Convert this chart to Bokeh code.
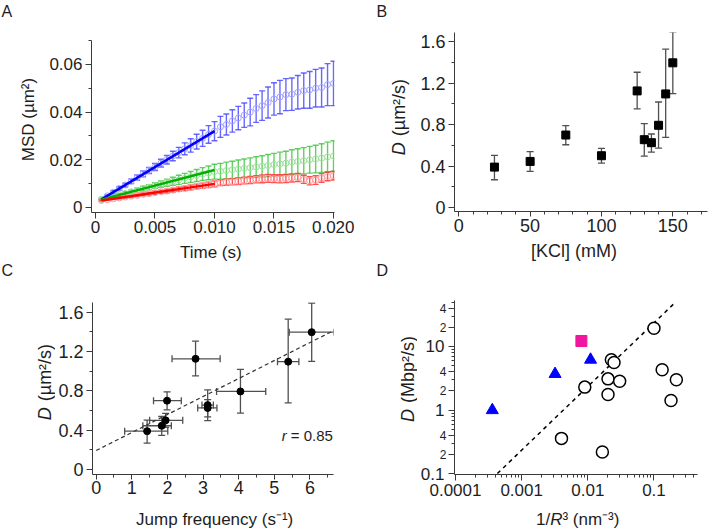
import math
from bokeh.plotting import figure
from bokeh.models import ColumnDataSource, Whisker, TeeHead, Label, FixedTicker, Range1d, LogAxis
from bokeh.layouts import row, column
from bokeh.embed import file_html
from bokeh.resources import INLINE

FONT = "Liberation Sans"
TXT = "#1e1e1e"

# ---------------- Panel A data ----------------
time_s = [0.0005, 0.0010, 0.0015, 0.0020, 0.0025, 0.0030, 0.0035, 0.0040, 0.0045, 0.0050,
          0.0055, 0.0060, 0.0065, 0.0070, 0.0075, 0.0080, 0.0085, 0.0090, 0.0095, 0.0100,
          0.0105, 0.0110, 0.0115, 0.0120, 0.0125, 0.0130, 0.0135, 0.0140, 0.0145, 0.0150,
          0.0155, 0.0160, 0.0165, 0.0170, 0.0175, 0.0180, 0.0185, 0.0190, 0.0195, 0.0200]
msd_blue = [0.0034, 0.0049, 0.0064, 0.0080, 0.0094, 0.0110, 0.0125, 0.0141, 0.0155, 0.0170,
            0.0186, 0.0200, 0.0216, 0.0230, 0.0246, 0.0260, 0.0276, 0.0290, 0.0306, 0.0320,
            0.0338, 0.0348, 0.0363, 0.0375, 0.0387, 0.0400, 0.0415, 0.0427, 0.0440, 0.0455,
            0.0463, 0.0473, 0.0475, 0.0483, 0.0490, 0.0493, 0.0500, 0.0503, 0.0515, 0.0520]
err_blue = [0.0003, 0.0004, 0.0006, 0.0007, 0.0008, 0.0010, 0.0011, 0.0012, 0.0013, 0.0015,
            0.0016, 0.0018, 0.0020, 0.0022, 0.0025, 0.0028, 0.0031, 0.0034, 0.0037, 0.0040,
            0.0044, 0.0044, 0.0047, 0.0049, 0.0051, 0.0058, 0.0058, 0.0062, 0.0065, 0.0068,
            0.0070, 0.0067, 0.0068, 0.0070, 0.0074, 0.0077, 0.0079, 0.0082, 0.0088, 0.0093]
msd_green = [0.0033, 0.0040, 0.0046, 0.0053, 0.0059, 0.0066, 0.0072, 0.0079, 0.0085, 0.0092,
             0.0098, 0.0104, 0.0110, 0.0116, 0.0122, 0.0128, 0.0134, 0.0140, 0.0145, 0.0150,
             0.0152, 0.0155, 0.0158, 0.0161, 0.0164, 0.0167, 0.0170, 0.0173, 0.0176, 0.0180,
             0.0183, 0.0186, 0.0190, 0.0193, 0.0196, 0.0200, 0.0203, 0.0207, 0.0212, 0.0216]
err_green = [0.0003, 0.0004, 0.0005, 0.0006, 0.0007, 0.0008, 0.0009, 0.0010, 0.0011, 0.0012,
             0.0013, 0.0015, 0.0017, 0.0019, 0.0021, 0.0023, 0.0025, 0.0027, 0.0029, 0.0031,
             0.0033, 0.0035, 0.0036, 0.0038, 0.0039, 0.0041, 0.0043, 0.0044, 0.0046, 0.0047,
             0.0049, 0.0050, 0.0052, 0.0053, 0.0055, 0.0056, 0.0058, 0.0060, 0.0062, 0.0064]
msd_red = [0.0029, 0.0033, 0.0036, 0.0040, 0.0044, 0.0047, 0.0051, 0.0055, 0.0058, 0.0062,
           0.0066, 0.0069, 0.0073, 0.0077, 0.0080, 0.0084, 0.0088, 0.0091, 0.0095, 0.0099,
           0.0104, 0.0106, 0.0108, 0.0110, 0.0113, 0.0115, 0.0118, 0.0120, 0.0122, 0.0121,
           0.0120, 0.0122, 0.0124, 0.0126, 0.0118, 0.0112, 0.0115, 0.0124, 0.0130, 0.0133]
err_red = [0.0002, 0.0003, 0.0003, 0.0004, 0.0004, 0.0005, 0.0005, 0.0006, 0.0006, 0.0007,
           0.0007, 0.0008, 0.0008, 0.0009, 0.0009, 0.0010, 0.0010, 0.0011, 0.0011, 0.0012,
           0.0012, 0.0013, 0.0013, 0.0014, 0.0014, 0.0015, 0.0015, 0.0016, 0.0016, 0.0016,
           0.0017, 0.0017, 0.0017, 0.0017, 0.0017, 0.0017, 0.0018, 0.0018, 0.0018, 0.0018]
fit_t = [0.0005, 0.0100]
fit_blue = [0.0034, 0.0320]
fit_green = [0.0033, 0.0157]
fit_red = [0.0029, 0.0099]

# ---------------- Panel B / C data ----------------
kcl_mM = [25, 50, 75, 100, 125, 130, 135, 140, 145, 150]
D_um2s = [0.390, 0.445, 0.700, 0.500, 1.126, 0.655, 0.626, 0.794, 1.097, 1.397]
D_lo = [0.268, 0.348, 0.606, 0.429, 0.952, 0.497, 0.535, 0.574, 0.677, 1.100]
D_hi = [0.503, 0.539, 0.790, 0.571, 1.306, 0.810, 0.710, 1.019, 1.529, 1.694]
jump_freq = [1.43, 1.84, 1.99, 1.95, 2.79, 3.13, 3.13, 4.05, 5.39, 6.05]
jump_lo = [0.80, 1.31, 1.61, 1.50, 2.13, 2.97, 2.85, 3.38, 5.09, 5.42]
jump_hi = [2.01, 2.11, 2.39, 2.43, 3.48, 3.29, 3.39, 4.76, 5.69, 6.67]
fitC_x = [0.0, 6.67]
fitC_y = [0.193, 1.414]

# ---------------- Panel D data ----------------
tri_x = [3.6e-4, 3.2e-3, 0.011]
tri_y = [1.0, 3.7, 6.2]
sq_x = [0.008]
sq_y = [12.2]
circ_x = [0.100, 0.0227, 0.0249, 0.133, 0.0202, 0.0303, 0.218, 0.0090, 0.0202, 0.181, 0.0040, 0.0166]
circ_y = [19.3, 6.2, 5.6, 4.3, 3.1, 2.85, 3.0, 2.3, 1.76, 1.42, 0.36, 0.22]
fitD_x = [4.3e-4, 0.215]
fitD_y = [0.101, 50.5]

# ---------------- layout helpers ----------------
W = {'D': .722, ' ': .278, '(': .333, ')': .333, 'µ': .576, 'm': .833, '²': .333, '³': .333,
     '/': .278, 's': .5, 'M': .833, 'b': .556, 'p': .556, '1': .556, 'R': .722, 'n': .556,
     '⁻': .333, '¹': .333, 'r': .333, '=': .584, '.': .278, 'J': .5, 'u': .556, 'f': .278,
     'e': .556, 'q': .556, 'c': .5, 'y': .5}
MID = 0.32  # em distance from alphabetic baseline up to the "middle" anchor

PANELS = {}


def tw(s, size):
    return sum(W.get(c, .556) for c in s) * size


def register(p, frame, xr, yr, xlog=False, ylog=False):
    PANELS[id(p)] = dict(frame=frame, xr=xr, yr=yr, xlog=xlog, ylog=ylog)


def style_axis(ax):
    ax.axis_line_color = "#3a3a3a"
    ax.major_tick_line_color = "#3a3a3a"
    ax.minor_tick_line_color = "#3a3a3a"
    ax.major_tick_in = 0
    ax.minor_tick_in = 0
    ax.major_tick_out = 6
    ax.minor_tick_out = 3
    ax.major_label_text_font = FONT
    ax.major_label_text_color = TXT


def make_fig(x0, y0, w, h, frame, xr, yr, xlog=False, ylog=False):
    L, R, T, B = frame
    p = figure(width=w, height=h, x_range=Range1d(*xr), y_range=Range1d(*yr),
               x_axis_type="log" if xlog else "linear",
               y_axis_type="log" if ylog else "linear",
               output_backend="svg", toolbar_location=None, title=None, frame_align=False,
               min_border_left=L - x0, min_border_right=x0 + w - R,
               min_border_top=T - y0, min_border_bottom=y0 + h - B)
    p.outline_line_color = None
    p.grid.visible = False
    p.background_fill_color = "white"
    p.border_fill_color = "white"
    register(p, frame, xr, yr, xlog, ylog)
    for ax in p.axis:
        style_axis(ax)
    return p


def strip(x0, y0, w, h):
    """A text-only canvas whose data coordinates equal page pixels."""
    p = figure(width=w, height=h, x_range=Range1d(x0, x0 + w), y_range=Range1d(y0 + h, y0),
               x_axis_location=None, y_axis_location=None, toolbar_location=None, title=None,
               frame_align=False, output_backend="svg", min_border=0)
    p.outline_line_color = None
    p.grid.visible = False
    p.background_fill_color = "white"
    p.border_fill_color = "white"
    register(p, (x0, x0 + w, y0, y0 + h), (x0, x0 + w), (y0 + h, y0))
    return p


def to_data(p, X, Y):
    pan = PANELS[id(p)]
    L, R, T, B = pan['frame']
    (x0, x1), (y0, y1) = pan['xr'], pan['yr']
    fx = (X - L) / (R - L)
    fy = (B - Y) / (B - T)
    if pan['xlog']:
        x = 10 ** (math.log10(x0) + fx * (math.log10(x1) - math.log10(x0)))
    else:
        x = x0 + fx * (x1 - x0)
    if pan['ylog']:
        y = 10 ** (math.log10(y0) + fy * (math.log10(y1) - math.log10(y0)))
    else:
        y = y0 + fy * (y1 - y0)
    return x, y


def text(p, X, Y, s, size, italic=False, align="left", angle=0.0):
    """Y is the text's middle line (page pixels)."""
    x, y = to_data(p, X, Y)
    p.add_layout(Label(x=x, y=y, text=s, text_font=FONT, text_font_size=f"{size}px",
                       text_font_style="italic" if italic else "normal", text_color=TXT,
                       text_align=align, text_baseline="middle", angle=angle))


def seg_text(p, Xc, Ymid, segs, size, vertical=False):
    """Centered run of text pieces (some italic), laid out horizontally or bottom-to-top."""
    total = sum(tw(s, size) for s, _ in segs)
    pos = -total / 2
    for s, it in segs:
        lead = len(s) - len(s.lstrip(" "))
        pos += lead * 0.33 * size
        s = s.lstrip(" ")
        if vertical:
            text(p, Xc, Ymid - pos, s, size, italic=it, angle=math.pi / 2)
        else:
            text(p, Xc + pos, Ymid, s, size, italic=it)
        pos += tw(s, size)


def ticks(ax, major, minor, labels, size):
    ax.ticker = FixedTicker(ticks=major, minor_ticks=minor)
    ax.major_label_overrides = {m: l for m, l in zip(major, labels)}
    ax.major_label_text_font_size = f"{size}px"


def vbars(p, x, lo, hi, color, width=1.2, cap=6, alpha=1.0):
    src = ColumnDataSource(dict(base=x, lower=lo, upper=hi))
    p.add_layout(Whisker(source=src, base="base", lower="lower", upper="upper", dimension="height",
                         line_color=color, line_width=width, line_alpha=alpha,
                         upper_head=TeeHead(size=cap, line_color=color, line_width=width, line_alpha=alpha),
                         lower_head=TeeHead(size=cap, line_color=color, line_width=width, line_alpha=alpha)))


def hbars(p, y, lo, hi, color, width=1.2, cap=6):
    src = ColumnDataSource(dict(base=y, lower=lo, upper=hi))
    p.add_layout(Whisker(source=src, base="base", lower="lower", upper="upper", dimension="width",
                         line_color=color, line_width=width,
                         upper_head=TeeHead(size=cap, line_color=color, line_width=width),
                         lower_head=TeeHead(size=cap, line_color=color, line_width=width)))


# ================= Panel A =================
pA = make_fig(40, 24, 314, 216, (91, 334, 40, 212), (-0.000336, 0.020084), (-0.0021, 0.0700))
ticks(pA.xaxis[0], [0, 0.005, 0.010, 0.015, 0.020], [], ["0", "0.005", "0.010", "0.015", "0.020"], 17)
ticks(pA.yaxis[0], [0, 0.02, 0.04, 0.06], [0.01, 0.03, 0.05, 0.07], ["0", "0.02", "0.04", "0.06"], 17)
pA.xaxis[0].major_label_standoff = 2
pA.yaxis[0].major_label_standoff = 3

series = [(msd_blue, err_blue, fit_blue, "#4d4dff", "#a3a3ff", "#0000ff"),
          (msd_green, err_green, fit_green, "#45c845", "#9ee09e", "#00b000"),
          (msd_red, err_red, fit_red, "#ff3535", "#ff9c9c", "#ff0000")]
for m, e, f, cbar, cmk, cline in series:
    vbars(pA, time_s, [a - b for a, b in zip(m, e)], [a + b for a, b in zip(m, e)], cbar,
          width=1.4, cap=6, alpha=0.85)
for m, e, f, cbar, cmk, cline in series:
    pA.scatter(time_s, m, marker="circle", size=6, fill_color=None, line_color=cmk, line_width=1)
for m, e, f, cbar, cmk, cline in series:
    pA.line(fit_t, f, line_color=cline, line_width=2.5)

# ================= Panel B =================
pB = make_fig(410, 24, 298, 216, (454, 707, 32, 211), (-3.0, 174.3), (-0.0386, 1.690))
ticks(pB.xaxis[0], [0, 50, 100, 150], [10, 20, 30, 40, 60, 70, 80, 90, 110, 120, 130, 140, 160, 170],
      ["0", "50", "100", "150"], 18)
ticks(pB.yaxis[0], [0, 0.4, 0.8, 1.2, 1.6], [0.2, 0.6, 1.0, 1.4], ["0", "0.4", "0.8", "1.2", "1.6"], 18)
pB.xaxis[0].major_tick_out = 5
pB.xaxis[0].major_label_standoff = 2
pB.yaxis[0].major_label_standoff = 3
vbars(pB, kcl_mM, D_lo, D_hi, "#505050", width=1.3, cap=7)
pB.scatter(kcl_mM, D_um2s, marker="square", size=8, color="black")

# ================= Panel C =================
pC = make_fig(55, 282, 299, 224, (91, 333, 302, 474), (-0.103, 6.662), (-0.051, 1.699))
ticks(pC.xaxis[0], [0, 1, 2, 3, 4, 5, 6], [0.5, 1.5, 2.5, 3.5, 4.5, 5.5, 6.5],
      ["0", "1", "2", "3", "4", "5", "6"], 18)
ticks(pC.yaxis[0], [0, 0.4, 0.8, 1.2, 1.6], [0.2, 0.6, 1.0, 1.4], ["0", "0.4", "0.8", "1.2", "1.6"], 18)
pC.xaxis[0].major_tick_out = 5
pC.xaxis[0].major_label_standoff = 1
pC.yaxis[0].major_label_standoff = 3
pC.line(fitC_x, fitC_y, line_color="#333333", line_width=1.2, line_dash="4 3")
vbars(pC, jump_freq, D_lo, D_hi, "#505050", width=1.3, cap=7)
hbars(pC, D_um2s, jump_lo, jump_hi, "#505050", width=1.3, cap=7)
pC.scatter(jump_freq, D_um2s, marker="circle", size=7, color="black")
text(pC, 281, 435, "r", 15, italic=True)
text(pC, 281 + tw("r ", 15), 435, "= 0.85", 15)

# ================= Panel D =================
pD = make_fig(417, 282, 291, 224, (453, 697, 300, 474), (9.66e-5, 0.455), (0.0975, 52.8),
              xlog=True, ylog=True)
xmaj = [1e-4, 1e-3, 1e-2, 1e-1]
xmin = [k * d for d in [1e-4, 1e-3, 1e-2, 1e-1] for k in range(2, 10) if k * d < 0.46]
ticks(pD.xaxis[0], xmaj, xmin, ["0.0001", "0.001", "0.01", "0.1"], 17)
pD.xaxis[0].major_label_standoff = 3
# inner y axis: all ticks, small "2"/"4" labels
ymaj = [0.1, 0.2, 0.4, 1, 2, 4, 10, 20, 40]
ysmall = ["", "2", "4", "", "2", "4", "", "2", "4"]
ymin = [k * d for d in [0.1, 1, 10] for k in (3, 5, 6, 7, 8, 9) if k * d < 53]
ticks(pD.yaxis[0], ymaj, ymin, ysmall, 12)
pD.yaxis[0].major_label_standoff = 2
# outer y axis: decade labels
ydec = [0.1, 1, 10]
ydec_lab = ["0.1", "1", "10"]
axD2 = LogAxis()
style_axis(axD2)
ticks(axD2, ydec, [], ydec_lab, 17)
axD2.axis_line_color = None
axD2.major_tick_line_color = None
axD2.minor_tick_line_color = None
axD2.major_tick_out = 0
axD2.minor_tick_out = 0
axD2.major_label_standoff = -8
pD.add_layout(axD2, "left")

pD.line(fitD_x, fitD_y, line_color="black", line_width=1.5, line_dash="4 4")
pD.scatter(circ_x, circ_y, marker="circle", size=12, fill_color="white", line_color="black", line_width=1.5)
pD.scatter(tri_x, tri_y, marker="triangle", size=12, color="#0000ff")
pD.scatter(sq_x, sq_y, marker="square", size=11, color="#f0169e")

# ================= text strips =================
sTop = strip(0, 0, 708, 24)
text(sTop, 1, 11, "A", 16)
text(sTop, 376, 11, "B", 16)

sYA = strip(0, 24, 40, 216)
seg_text(sYA, 28, 120, [("MSD (µm²)", False)], 17, vertical=True)
sYB = strip(354, 24, 56, 216)
seg_text(sYB, 398, 117, [("D", True), (" (µm²/s)", False)], 18, vertical=True)

sMid = strip(0, 240, 708, 42)
seg_text(sMid, 213, 251.5, [("Time (s)", False)], 17)
seg_text(sMid, 579, 250.5, [("[KCl] (mM)", False)], 18)
text(sMid, 1, 270, "C", 16)
text(sMid, 376, 270, "D", 16)

sYC = strip(0, 282, 55, 224)
seg_text(sYC, 44, 382, [("D", True), (" (µm²/s)", False)], 18, vertical=True)
sYD = strip(354, 282, 63, 224)
seg_text(sYD, 407, 379, [("D", True), (" (Mbp²/s)", False)], 18, vertical=True)

sBot = strip(0, 506, 708, 24)
seg_text(sBot, 214, 519, [("Jump frequency (s⁻¹)", False)], 17)
seg_text(sBot, 577, 519, [("1/", False), ("R", True), ("³ (nm⁻³)", False)], 17)

layout = column(sTop,
                row(sYA, pA, sYB, pB),
                sMid,
                row(sYC, pC, sYD, pD),
                sBot)
open("out.html", "w").write(file_html(layout, INLINE))
